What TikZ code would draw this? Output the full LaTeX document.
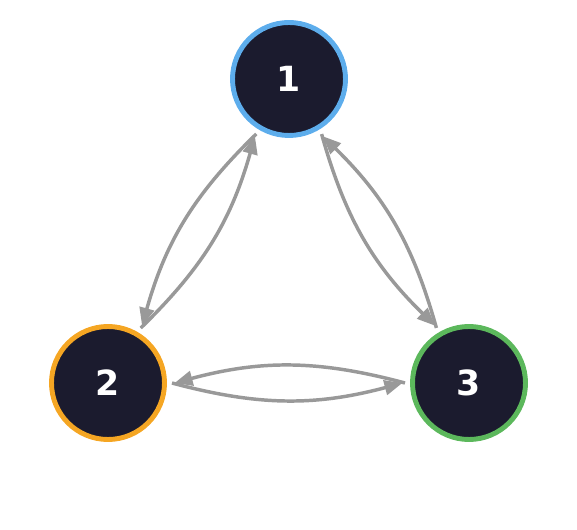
\documentclass[tikz,border=0pt]{standalone}
\usepackage{fontspec}
\setmainfont{DejaVu Sans}
\usepackage{tikz}
\usetikzlibrary{arrows.meta,calc}
\definecolor{navy}{HTML}{1B1B2E}
\definecolor{skyblue}{HTML}{5DADEC}
\definecolor{amber}{HTML}{F5A623}
\definecolor{leaf}{HTML}{5CB85C}
\definecolor{edgegray}{HTML}{999999}
\tikzstyle{vertex} = [circle, fill=navy, line width=3.7pt, minimum size=84.75pt,
    inner sep=0pt, text=white, font=\fontsize{26pt}{30pt}\selectfont\bfseries]
\tikzstyle{line} = [draw, line width=2.6pt, color=edgegray,
    -{Triangle[length=13.5pt,width=11pt]}]
\def\gapA{48pt}
\def\gapB{49.9pt}

\begin{document}
\begin{tikzpicture}[x=0.75pt, y=0.75pt]
    \useasboundingbox (0,0) rectangle (577,530);
    % Place nodes
    \node [vertex, draw=skyblue] (n1) at (289,451) {1};
    \node [vertex, draw=amber] (n2) at (108,147) {2};
    \node [vertex, draw=leaf] (n3) at (469,147) {3};

    % Draw edges
    \path [line] ($(n1)!\gapA!(n2)$) to[bend right=15] ($(n2)!\gapB!(n1)$);
    \path [line] ($(n2)!\gapA!(n1)$) to[bend right=15] ($(n1)!\gapB!(n2)$);
    \path [line] ($(n1)!\gapA!(n3)$) to[bend right=15] ($(n3)!\gapB!(n1)$);
    \path [line] ($(n3)!\gapA!(n1)$) to[bend right=15] ($(n1)!\gapB!(n3)$);
    \path [line] ($(n2)!\gapA!(n3)$) to[bend right=15] ($(n3)!\gapB!(n2)$);
    \path [line] ($(n3)!\gapA!(n2)$) to[bend right=15] ($(n2)!\gapB!(n3)$);
\end{tikzpicture}
\end{document}
